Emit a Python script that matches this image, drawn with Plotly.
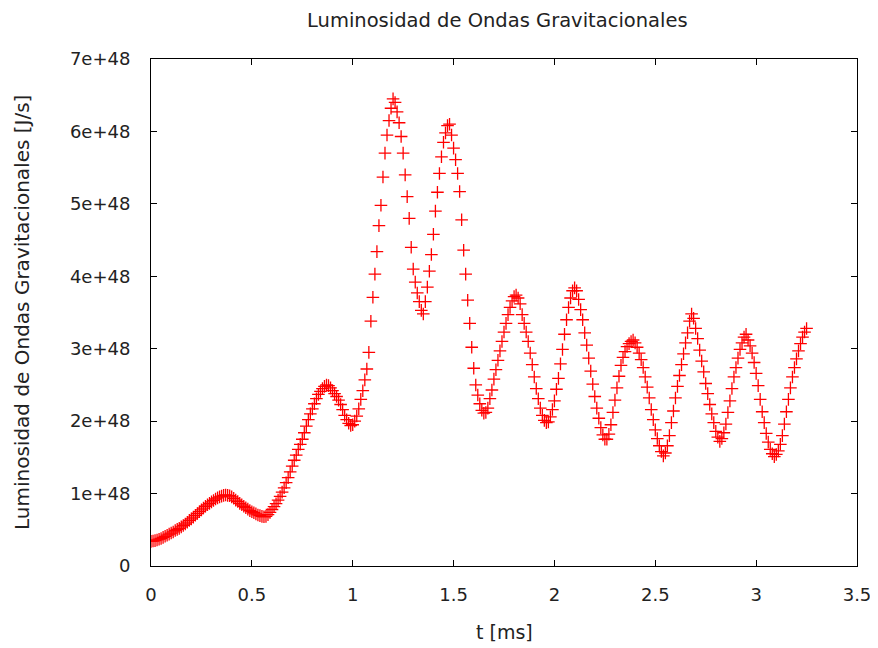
import plotly.graph_objects as go

# Time sampling (ms)
T_START_MS = 0.0
T_STEP_MS = 0.01

# Gravitational-wave luminosity, in units of 1e48 J/s
L_1E48 = [
    0.34, 0.345, 0.35, 0.36, 0.37, 0.38, 0.395, 0.41, 0.425, 0.44,
    0.455, 0.47, 0.49, 0.505, 0.52, 0.54, 0.56, 0.58, 0.605, 0.63,
    0.65, 0.675, 0.70, 0.725, 0.75, 0.775, 0.80, 0.825, 0.845, 0.865,
    0.885, 0.905, 0.925, 0.94, 0.955, 0.965, 0.975, 0.98, 0.975, 0.97,
    0.955, 0.935, 0.91, 0.89, 0.865, 0.845, 0.825, 0.805, 0.785, 0.765,
    0.75, 0.735, 0.72, 0.705, 0.695, 0.685, 0.68, 0.685, 0.71, 0.74,
    0.78, 0.82, 0.86, 0.91, 0.96, 1.02, 1.08, 1.15, 1.22, 1.30,
    1.38, 1.46, 1.53, 1.61, 1.68, 1.75, 1.84, 1.93, 2.02, 2.10,
    2.17, 2.24, 2.31, 2.37, 2.41, 2.45, 2.48, 2.50, 2.49, 2.46,
    2.42, 2.38, 2.34, 2.29, 2.23, 2.16, 2.08, 2.02, 1.97, 1.94,
    1.95, 2.00, 2.07, 2.17, 2.30, 2.42, 2.57, 2.72, 2.95, 3.38,
    3.71, 4.03, 4.34, 4.70, 4.98, 5.37, 5.70, 5.95, 6.15, 6.32,
    6.45, 6.40, 6.27, 6.12, 5.93, 5.70, 5.40, 5.10, 4.80, 4.40,
    4.10, 3.92, 3.77, 3.65, 3.53, 3.48, 3.65, 3.85, 4.07, 4.30,
    4.58, 4.90, 5.16, 5.42, 5.65, 5.85, 5.98, 6.08, 6.10, 5.95,
    5.77, 5.61, 5.42, 5.17, 4.78, 4.36, 4.03, 3.67, 3.35, 3.02,
    2.73, 2.50, 2.36, 2.24, 2.15, 2.11, 2.12, 2.18, 2.31, 2.43,
    2.58, 2.71, 2.84, 2.97, 3.10, 3.23, 3.35, 3.47, 3.57, 3.66,
    3.72, 3.74, 3.70, 3.62, 3.47, 3.35, 3.23, 3.10, 2.94, 2.78,
    2.61, 2.45, 2.31, 2.18, 2.08, 2.01, 1.98, 1.99, 2.06, 2.16,
    2.28, 2.44, 2.59, 2.79, 2.99, 3.20, 3.40, 3.57, 3.70, 3.80,
    3.84, 3.80, 3.68, 3.54, 3.40, 3.22, 3.05, 2.87, 2.69, 2.51,
    2.34, 2.18, 2.04, 1.91, 1.81, 1.75, 1.75, 1.82, 1.95, 2.12,
    2.29, 2.46, 2.62, 2.77, 2.88, 2.96, 3.03, 3.07, 3.10, 3.12,
    3.08, 3.02, 2.94, 2.85, 2.74, 2.61, 2.47, 2.32, 2.16, 2.02,
    1.88, 1.76, 1.66, 1.58, 1.52, 1.56, 1.66, 1.80, 1.98, 2.14,
    2.32, 2.48, 2.63, 2.78, 2.93, 3.08, 3.22, 3.38, 3.48, 3.42,
    3.28, 3.14, 2.98, 2.83, 2.68, 2.52, 2.38, 2.23, 2.10, 1.98,
    1.86, 1.78, 1.72, 1.76, 1.84, 1.96, 2.12, 2.28, 2.45, 2.61,
    2.74, 2.87, 2.99, 3.08, 3.16, 3.20, 3.12, 3.04, 2.94, 2.81,
    2.66, 2.49, 2.30, 2.13, 1.98, 1.83, 1.71, 1.61, 1.55, 1.51,
    1.54, 1.59, 1.68, 1.80, 1.96, 2.13, 2.30, 2.46, 2.61, 2.74,
    2.86, 2.97, 3.07, 3.16, 3.23, 3.28,
]

X_TICKS = [0, 0.5, 1, 1.5, 2, 2.5, 3, 3.5]
X_TICK_TEXT = ["0", "0.5", "1", "1.5", "2", "2.5", "3", "3.5"]
Y_TICKS = [0, 1e48, 2e48, 3e48, 4e48, 5e48, 6e48, 7e48]
Y_TICK_TEXT = ["0", "1e+48", "2e+48", "3e+48", "4e+48", "5e+48", "6e+48", "7e+48"]

TITLE = "Luminosidad de Ondas Gravitacionales"
X_TITLE = "t [ms]"
Y_TITLE = "Luminosidad de Ondas Gravitacionales [J/s]"

t_ms = [round(T_START_MS + i * T_STEP_MS, 4) for i in range(len(L_1E48))]
lum = [v * 1e48 for v in L_1E48]

FONT = "DejaVu Sans"
# page body margin offsets the figure by 8px; compensate
OFF = 8
W, H = 878 - OFF, 648 - OFF
PL, PR, PT, PB = 151 - OFF, 857 - OFF, 59 - OFF, 566 - OFF  # plot box in figure px
ML, MR, MT, MB = PL, W - PR, PT, H - PB
PW, PH = PR - PL, PB - PT


def px_to_paper(sx, sy):
    """screen px -> paper coordinates"""
    fx, fy = sx - OFF, sy - OFF
    return (fx - PL) / PW, (PB - fy) / PH


fig = go.Figure()
fig.add_trace(go.Scatter(
    x=t_ms, y=lum, mode="markers",
    marker=dict(symbol="cross-thin", size=9,
                line=dict(width=1.3, color="#ff0000"), color="#ff0000"),
    showlegend=False,
))

axis_common = dict(
    showline=True, linecolor="black", linewidth=1, mirror="allticks",
    ticks="inside", ticklen=6, tickwidth=1, tickcolor="black",
    showgrid=False, zeroline=False, automargin=False,
    tickfont=dict(family=FONT, size=18, color="#222"),
)

tx, ty = px_to_paper(497.5, 20)
xx, xy = px_to_paper(504, 632)
yx, yy = px_to_paper(22, 313)

fig.update_layout(
    width=W, height=H,
    margin=dict(l=ML, r=MR, t=MT, b=MB),
    paper_bgcolor="white", plot_bgcolor="white",
    xaxis=dict(range=[0, 3.5], tickvals=X_TICKS, ticktext=X_TICK_TEXT,
               ticklabelstandoff=12, **axis_common),
    yaxis=dict(range=[0, 7e48], tickvals=Y_TICKS, ticktext=Y_TICK_TEXT,
               ticklabelstandoff=16, **axis_common),
    annotations=[
        dict(text=TITLE, xref="paper", yref="paper", x=tx, y=ty,
             xanchor="center", yanchor="middle", showarrow=False,
             font=dict(family=FONT, size=19.5, color="#222")),
        dict(text=X_TITLE, xref="paper", yref="paper", x=xx, y=xy,
             xanchor="center", yanchor="middle", showarrow=False,
             font=dict(family=FONT, size=19, color="#222")),
        dict(text=Y_TITLE, xref="paper", yref="paper", textangle=-90,
             x=yx, y=yy, xanchor="center", yanchor="middle", showarrow=False,
             font=dict(family=FONT, size=20, color="#222")),
    ],
)

fig.write_html("out.html")
